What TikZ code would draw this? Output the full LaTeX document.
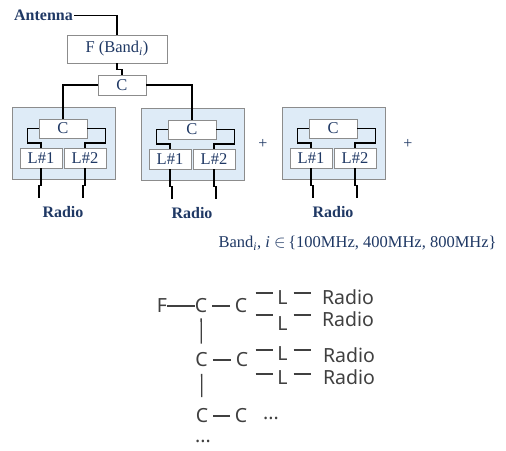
\documentclass[tikz,border=0pt]{standalone}
\usepackage{fontspec}
\setmainfont{Liberation Serif}
\newfontfamily\gothicfont{Noto Sans}
\usetikzlibrary{positioning}
\definecolor{Marino}{HTML}{1F3864}
\definecolor{AzulClaro}{HTML}{DEEBF7}
\definecolor{Borde}{HTML}{8C8C8C}
\definecolor{GrisTexto}{HTML}{404040}

\begin{document}
\begin{tikzpicture}[x=1pt,y=-1pt,
  wire/.style={black,line width=1.6pt},
  caja/.style={draw=Borde,fill=white,line width=0.8pt,inner sep=0pt,
    text=Marino,font=\fontsize{16.5}{18}\selectfont},
  modulo/.style={draw=Borde,fill=AzulClaro,line width=0.8pt,
    minimum width=103pt,minimum height=72pt,anchor=north west},
  titulo/.style={text=Marino,font=\bfseries\fontsize{16}{18}\selectfont,inner sep=1pt},
  letra/.style={text=GrisTexto,font=\gothicfont\fontsize{19.5}{20}\selectfont,inner sep=0pt},
  gline/.style={GrisTexto,line width=1.3pt}
]
  \useasboundingbox (0,0) rectangle (506,450);

  % Antena, filtro y combinador principal.
  \node[titulo,anchor=east] (ant) at (74,15.5) {Antenna};
  \node[caja,minimum width=100pt,minimum height=28pt] (fband) at (117,49)
    {F (Band\textsubscript{\textit{i}})};
  \node[caja,minimum width=48pt,minimum height=20pt] (ctop) at (122,85) {C};
  \draw[wire] (ant.east) -| (fband.north);
  \draw[wire] (fband.south) -- ++(0,6) -| (ctop.north);

  % Modulos C + L#1/L#2 hacia la radio.
  \foreach \u/\ox/\oy/\j in {a/12/107/-2,b/141/108/2,c/282/107/2}{
    \node[modulo] (box\u) at (\ox,\oy) {};
    \node[caja,minimum width=48pt,minimum height=19pt] (c\u) at (\ox+51,\oy+21.5) {C};
    \node[caja,minimum width=42pt,minimum height=20pt] (la\u) at (\ox+29,\oy+51) {L\#1};
    \node[caja,minimum width=42pt,minimum height=20pt] (lb\u) at (\ox+73,\oy+51) {L\#2};
    \draw[wire] (c\u.west) -- ++(-11,0) -- ++(0,14.5) -| (la\u.north);
    \draw[wire] (c\u.east) -- ++(18,0) -- ++(0,14.5) -| (lb\u.north);
    \draw[wire] (la\u.south) -- ++(0,17) -- ++(\j,0) -- ++(0,13);
    \draw[wire] (lb\u.south) -- ++(0,17) -- ++(\j,0) -- ++(0,13);
    \node[titulo] (radio\u) at (\ox+51,\oy+105) {Radio};
  }
  \draw[wire] (ctop.west) -| (ca.north);
  \draw[wire] (ctop.east) -| (cb.north);

  \node[text=Marino,font=\fontsize{16}{18}\selectfont] (masa) at (263,144) {+};
  \node[text=Marino,font=\fontsize{16}{18}\selectfont] (masb) at (408,144) {+};
  \node[text=Marino,font=\fontsize{16.5}{18}\selectfont,anchor=west] (bandas) at (215,243)
    {Band\textsubscript{\textit{i}}, \textit{i} $\in$\,\{100MHz, 400MHz, 800MHz\}};

  % Esquema en texto.
  \node[letra] (fb) at (162,306) {F};
  \node[letra] (c1) at (201,306) {C};
  \node[letra] (c2) at (241,306) {C};
  \node[letra] (c3) at (201.5,360) {C};
  \node[letra] (c4) at (242,360) {C};
  \node[letra] (c5) at (202,416) {C};
  \node[letra] (c6) at (241,416) {C};
  \node[letra] (lA) at (282.5,297.5) {L};
  \node[letra] (lB) at (282.5,323.5) {L};
  \node[letra] (lC) at (282.5,354) {L};
  \node[letra] (lD) at (282.5,378) {L};
  \node[letra] (rA) at (348,297) {Radio};
  \node[letra] (rB) at (348,319.5) {Radio};
  \node[letra] (rC) at (349,355) {Radio};
  \node[letra] (rD) at (349,377.5) {Radio};
  \node[letra] (pc) at (271,418) {...};
  \node[letra] (pd) at (203,441) {...};

  \draw[gline] (fb) -- (c1);
  \draw[gline,shorten <=5pt,shorten >=5pt] (c1) -- (c2);
  \draw[gline,shorten <=5pt,shorten >=5pt] (c3) -- (c4);
  \draw[gline,shorten <=5pt,shorten >=5pt] (c5) -- (c6);
  \draw[gline,shorten <=5pt,shorten >=9pt] (c1) -- (c3);
  \draw[gline,shorten <=6.5pt,shorten >=11.5pt] (c3) -- (c5);
  \foreach \n/\dy in {lA/-4.5,lB/-8.5,lC/-4,lD/-4}{
    \draw[gline] ([shift={(-27,\dy)}]\n.center) -- ([shift={(-10,\dy)}]\n.center);
    \draw[gline] ([shift={(11,\dy)}]\n.center) -- ([shift={(28,\dy)}]\n.center);
  }
\end{tikzpicture}
\end{document}
